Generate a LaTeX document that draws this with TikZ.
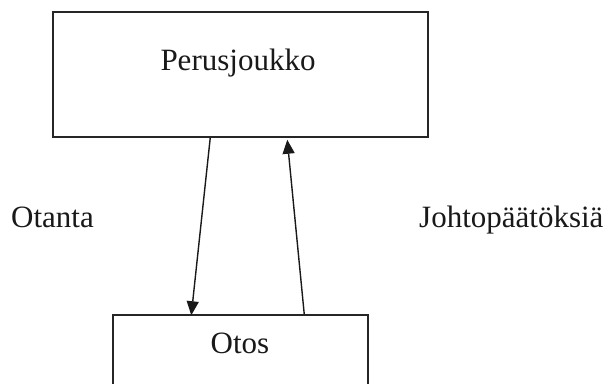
\documentclass[tikz,border=0pt]{standalone}
\usepackage{fontspec}
\setmainfont{Liberation Serif}
\usetikzlibrary{calc,arrows.meta}
\begin{document}
\begin{tikzpicture}[x=1pt,y=1pt,
  boxstyle/.style={draw=black!85, line width=1.5pt, inner sep=0pt, fill=white},
  lbl/.style={font=\fontsize{31}{37}\selectfont, inner sep=0pt, text=black!90},
  conn/.style={line width=1.4pt, black!90, -{Triangle[length=14pt,width=12pt]}}]
\useasboundingbox (0,0) rectangle (612,383);
\clip (0,0) rectangle (612,383);
\fill[white] (0,0) rectangle (612,383);
% boxes
\node[boxstyle, minimum width=375pt, minimum height=125pt] (pop) at (240.5,308.5) {};
\node[boxstyle, minimum width=255pt, minimum height=100pt] (otos) at (240.5,18) {};
% texts
\node[lbl, anchor=base] (poptext) at (238,312) {Perusjoukko};
\node[lbl, anchor=base] (otostext) at (240,30) {Otos};
\node[lbl, anchor=base west] (otanta) at (11,156) {Otanta};
\node[lbl, anchor=base west] (johto) at (419,156) {Johtopäätöksiä};
% connectors
\coordinate (d1) at ($(pop.south west)+(158,0)$);
\coordinate (d2) at ($(otos.north west)+(79,-1)$);
\coordinate (u1) at ($(otos.north west)+(192,0)$);
\coordinate (u2) at ($(pop.south west)+(235,-2)$);
\draw[conn] (d1) -- (d2);
\draw[conn] (u1) -- (u2);
\end{tikzpicture}
\end{document}
